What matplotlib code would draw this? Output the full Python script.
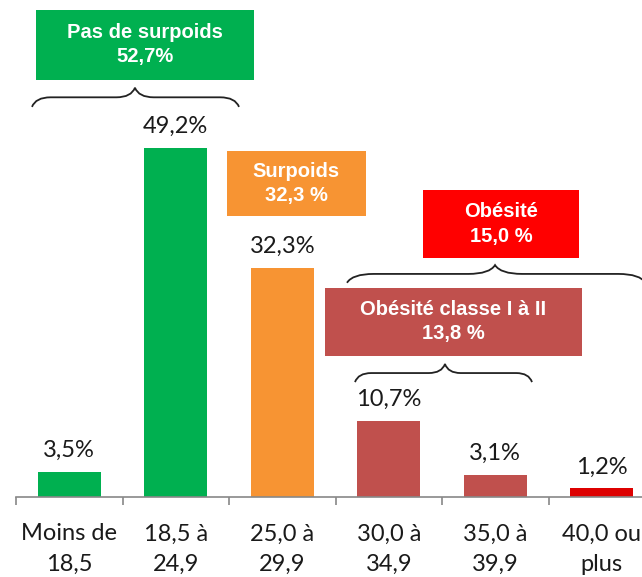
import matplotlib.pyplot as plt
from matplotlib.patches import Rectangle, PathPatch
from matplotlib.path import Path

# IMC categories and share of population (%)
categories = ['Moins de\n18,5', '18,5 à\n24,9', '25,0 à\n29,9', '30,0 à\n34,9', '35,0 à\n39,9', '40,0 ou\nplus']
values = [3.5, 49.2, 32.3, 10.7, 3.1, 1.2]
colors = ['#00B050', '#00B050', '#F79433', '#C0504D', '#C0504D', '#DD0000']

# group boxes: label, colour, (x0, x1, y0, y1) in data units
groups = [
    ('Pas de surpoids\n52,7%', '#00B050', (-0.31, 1.735, 58.8, 68.7)),
    ('Surpoids\n32,3 %', '#F79433', (1.48, 2.786, 39.6, 48.8)),
    ('Obésité\n15,0 %', '#FF0000', (3.32, 4.786, 33.7, 43.3)),
    ('Obésité classe I à II\n13,8 %', '#C0504D', (2.40, 4.815, 19.9, 29.5)),
]
# braces: x0, x1, xtip, ybase, ytip
braces = [
    (-0.35, 1.594, 0.617, 55.0, 57.7),
    (2.608, 5.41, 3.998, 30.2, 32.7),
    (2.683, 4.345, 3.528, 16.2, 18.75),
]

label_font = ['Lato', 'DejaVu Sans']

fig = plt.figure(figsize=(6.42, 5.77), dpi=100)
ax = fig.add_axes([16/642, 80/577, 639/642, 497/577])

x = range(len(values))
bars = ax.bar(x, values, width=0.59, color=colors)
for xi, v in zip(x, values):
    ax.annotate(f'{v:.1f}%'.replace('.', ','), (xi, v), xytext=(0, 8), textcoords='offset points',
                ha='center', va='bottom', fontsize=17, family=label_font, color='#1a1a1a')

ax.set_xlim(-0.5, len(values) - 0.5)
ax.set_ylim(0, 70.07)
ax.set_xticks(list(x))
ax.set_xticklabels(categories, fontsize=17, family=label_font, color='#1a1a1a', linespacing=1.55)
ax.set_xticks([i - 0.5 for i in range(len(values) + 1)], minor=True)
ax.tick_params(axis='x', which='major', length=0, pad=19)
ax.tick_params(axis='x', which='minor', length=6, color='#888888', width=1.2)
ax.set_yticks([])
for s in ['top', 'left', 'right']:
    ax.spines[s].set_visible(False)
ax.spines['bottom'].set_color('#888888')
ax.spines['bottom'].set_linewidth(1.2)

for text, col, (x0, x1, y0, y1) in groups:
    ax.add_patch(Rectangle((x0, y0), x1 - x0, y1 - y0, facecolor=col, edgecolor='none', clip_on=False))
    ax.text((x0 + x1) / 2, (y0 + y1) / 2, text, ha='center', va='center', color='white',
            fontsize=14.5, fontweight='bold', family='Liberation Sans', linespacing=1.35)


def brace(x0, x1, xt, yb, yt):
    ya = (yb + yt) / 2
    dl = (xt - x0) * 0.18
    dr = (x1 - xt) * 0.18
    verts = [(x0, yb), (x0 + dl * 0.2, ya), (x0 + dl, ya),
             (xt - dl, ya),
             (xt - dl * 0.2, ya), (xt, yt),
             (xt + dr * 0.2, ya), (xt + dr, ya),
             (x1 - dr, ya),
             (x1 - dr * 0.2, ya), (x1, yb)]
    codes = [Path.MOVETO, Path.CURVE3, Path.CURVE3, Path.LINETO,
             Path.CURVE3, Path.CURVE3, Path.CURVE3, Path.CURVE3,
             Path.LINETO, Path.CURVE3, Path.CURVE3]
    ax.add_patch(PathPatch(Path(verts, codes), facecolor='none', edgecolor='#222222', lw=1.3, clip_on=False))


for b in braces:
    brace(*b)

fig.savefig('out.png', dpi=100)
